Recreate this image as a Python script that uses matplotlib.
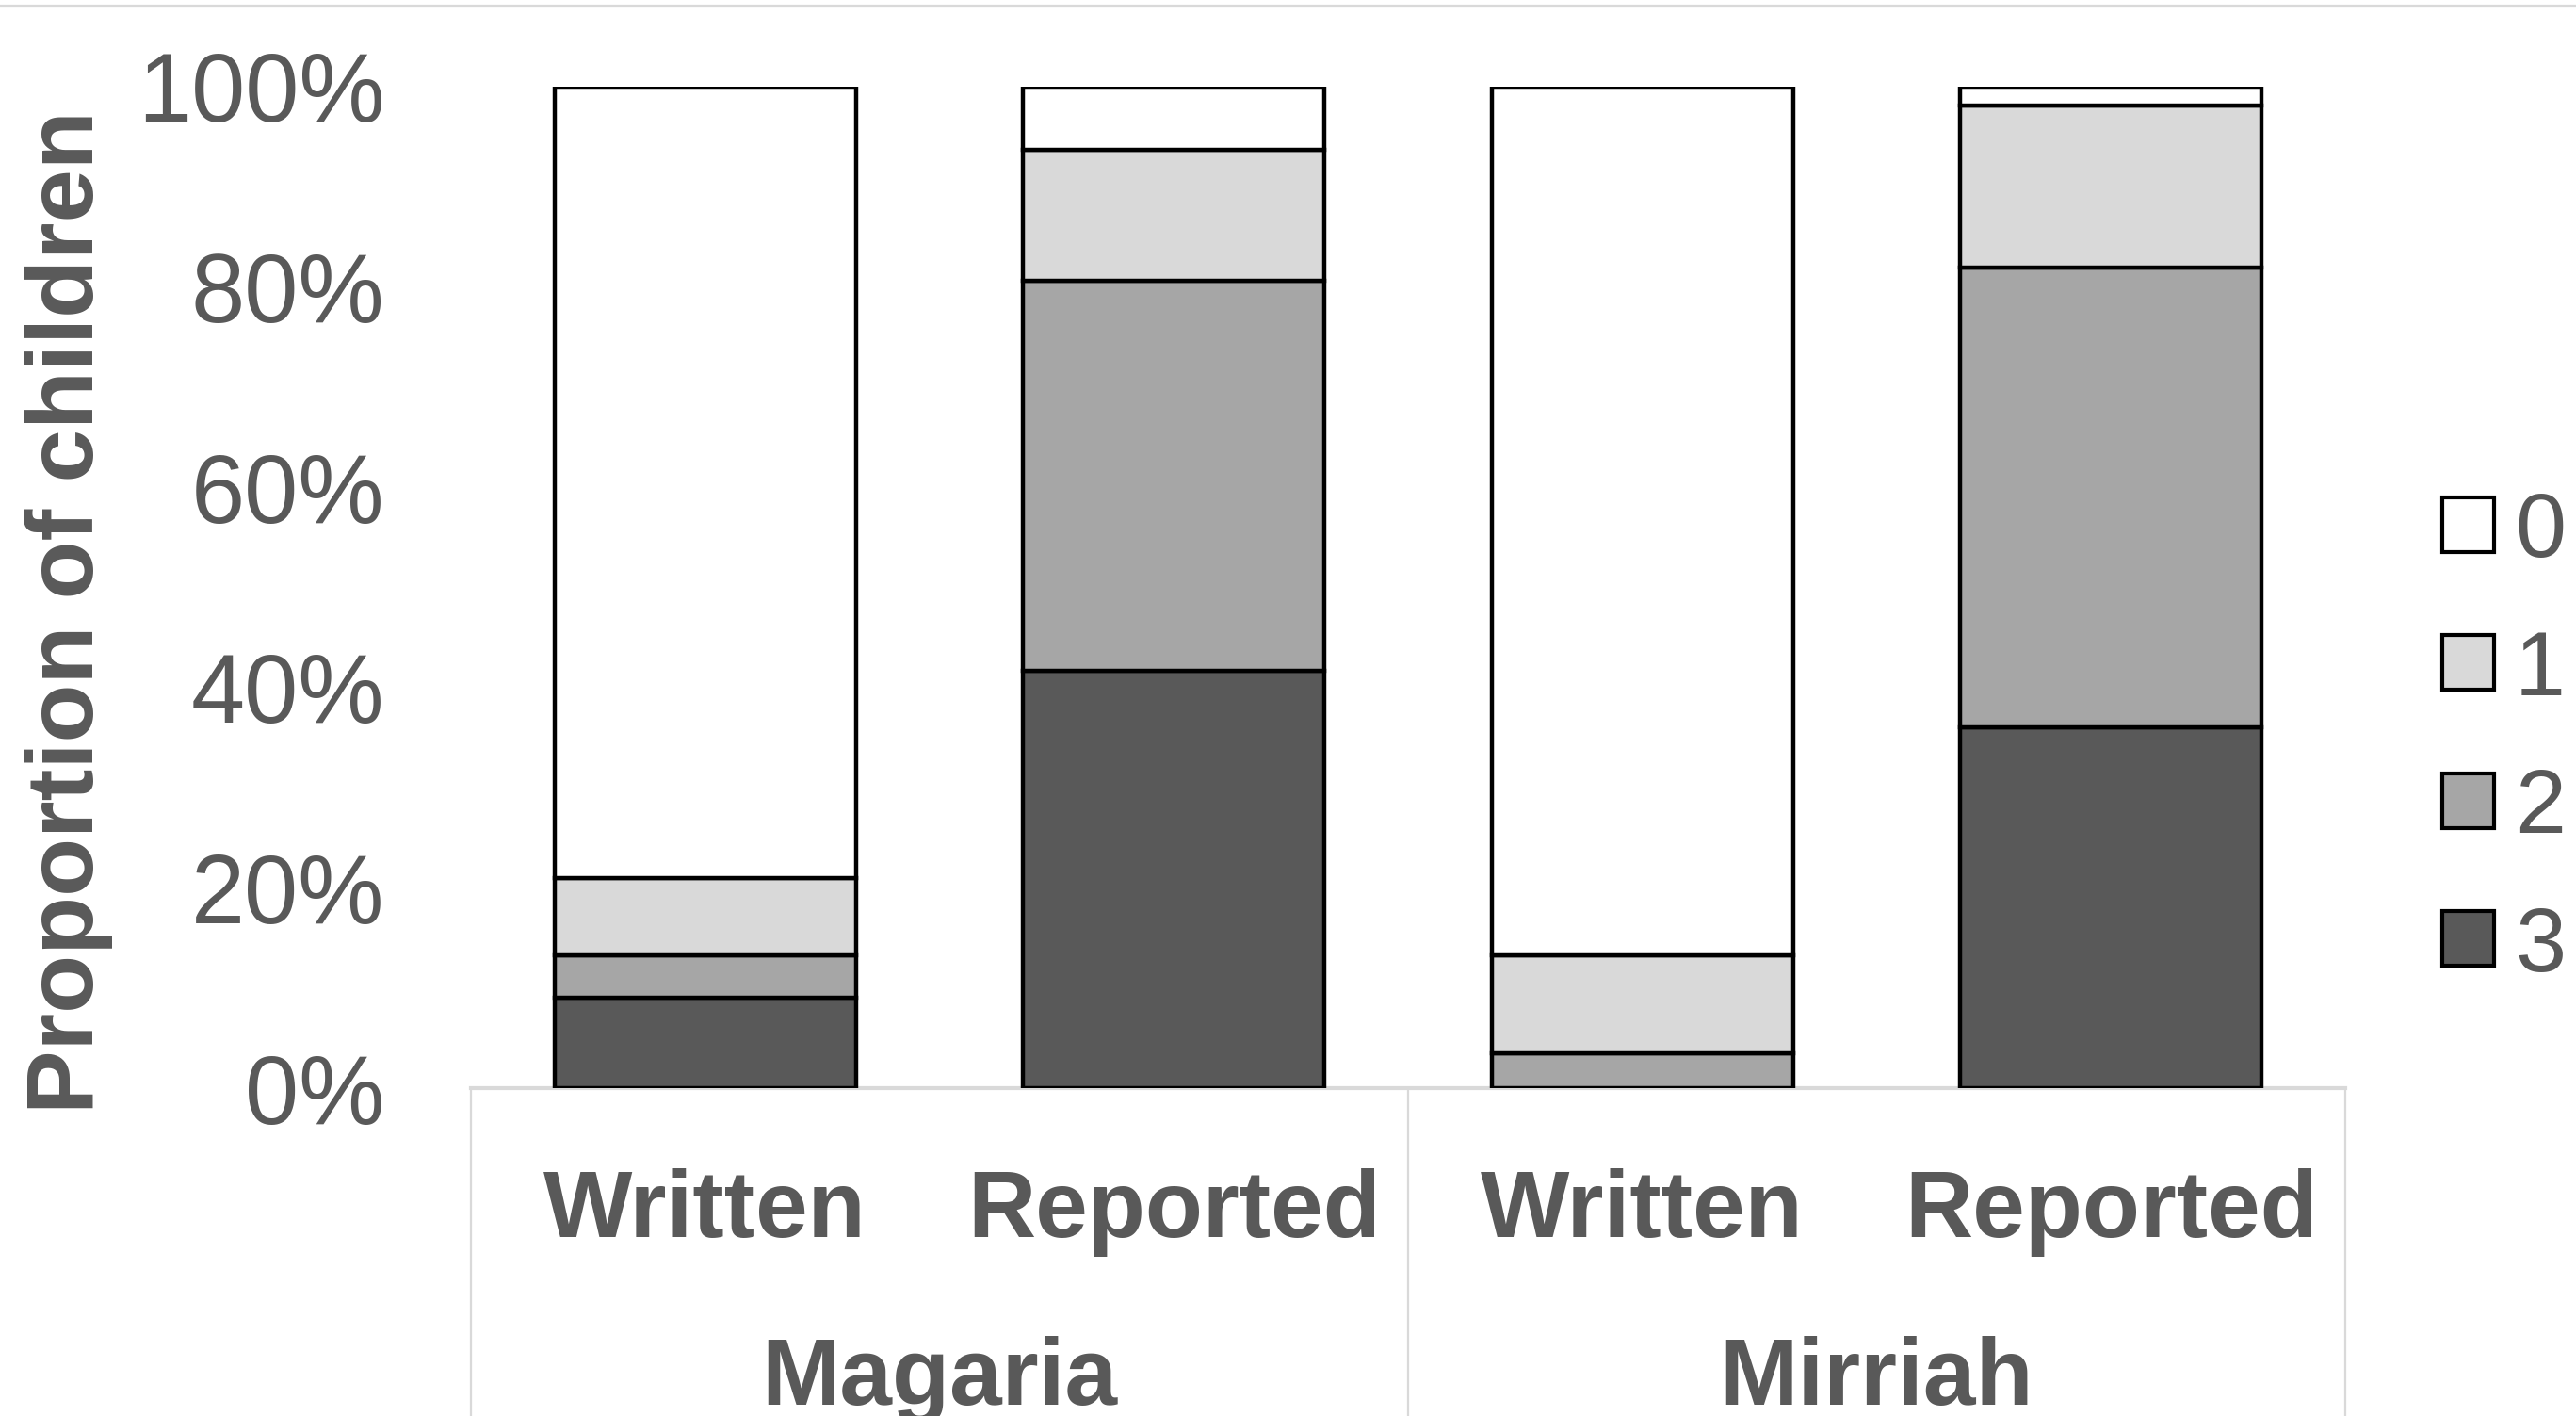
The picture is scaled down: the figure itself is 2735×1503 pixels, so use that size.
import matplotlib
matplotlib.use("Agg")
import matplotlib.pyplot as plt
from matplotlib.patches import Patch
from matplotlib.lines import Line2D
import numpy as np

# Data: proportion of children (%) by score level
sources = ["Written", "Reported", "Written", "Reported"]
sites = ["Magaria", "Mirriah"]
levels = ["0", "1", "2", "3"]
score3 = [9.0, 41.7, 0.0, 36.0]
score2 = [4.3, 38.9, 3.5, 45.9]
score1 = [7.7, 13.1, 9.8, 16.2]
score0 = [79.0, 6.3, 86.7, 1.9]
yticks = [0, 20, 40, 60, 80, 100]
ytick_labels = ["0%", "20%", "40%", "60%", "80%", "100%"]

colors = {"0": "#ffffff", "1": "#d9d9d9", "2": "#a6a6a6", "3": "#595959"}
text_color = "#595959"
grid_color = "#d9d9d9"

plt.rcParams["font.family"] = ["Liberation Sans", "DejaVu Sans"]

W, H = 2735, 1503
fig = plt.figure(figsize=(W / 100, H / 100), dpi=100)
ax = fig.add_axes([500 / W, (H - 1155) / H, 1990 / W, 1063 / H])

x = np.arange(len(sources))
width = 0.643
bottom = np.zeros(len(sources))
for lvl, vals in [("3", score3), ("2", score2), ("1", score1), ("0", score0)]:
    vals = np.array(vals)
    ax.bar(x, vals, width, bottom=bottom, color=colors[lvl],
           edgecolor="black", linewidth=3.2, zorder=2)
    bottom += vals

ax.set_xlim(-0.5, 3.5)
ax.set_ylim(0, 100)
ax.set_yticks(yticks)
ax.set_yticklabels(ytick_labels, fontsize=74, color=text_color)
ax.tick_params(axis="y", length=0, pad=66)
ax.set_xticks([])
for side in ["left", "right", "top"]:
    ax.spines[side].set_visible(False)
ax.spines["bottom"].set_color(grid_color)
ax.spines["bottom"].set_linewidth(3)
ax.spines["bottom"].set_zorder(1)

# Two-level category axis
trans = ax.get_xaxis_transform()
for xi, lab in zip(x, sources):
    ax.text(xi, -0.1486, lab, transform=trans, ha="center", va="baseline",
            fontsize=72, fontweight="bold", color=text_color)
for gi, site in enumerate(sites):
    ax.text(2 * gi + 0.5, -0.316, site, transform=trans, ha="center",
            va="baseline", fontsize=72, fontweight="bold", color=text_color)
for xd in [-0.5, 1.5, 3.5]:
    ax.add_line(Line2D([xd, xd], [0, -0.35], transform=trans, color=grid_color,
                       linewidth=1.6, clip_on=False))

fig.text(73 / W, (H - 650) / H, "Proportion of children", rotation=90,
         ha="center", va="center", fontsize=73, fontweight="bold",
         color=text_color)

# Thin frame line at the top of the chart area
fig.add_artist(Line2D([0, 1], [1 - 6 / H, 1 - 6 / H], transform=fig.transFigure,
                      color=grid_color, linewidth=1.6))

handles = [Patch(facecolor=colors[l], edgecolor="black", linewidth=3) for l in levels]
leg = fig.legend(handles, levels, loc="center left",
                 bbox_to_anchor=(2593 / W, (H - 786) / H), frameon=False,
                 fontsize=70, handlelength=0.57, handleheight=0.54,
                 handletextpad=0.22, labelspacing=0.58, borderpad=0,
                 borderaxespad=0)
for t in leg.get_texts():
    t.set_color(text_color)

fig.savefig("out.png", dpi=100)
